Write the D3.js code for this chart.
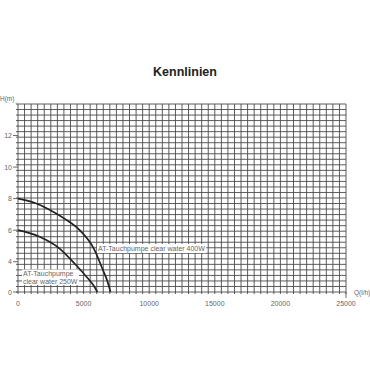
<!DOCTYPE html>
<html>
<head>
<meta charset="utf-8">
<script src="https://cdn.jsdelivr.net/npm/d3@7"></script>
<style>
  html, body { margin: 0; padding: 0; background: #fff; }
  text { font-family: "Liberation Sans", Arial, sans-serif; }
</style>
</head>
<body>
<div id="chart"></div>
<script>
// pump curves: Q in l/h, H in m
const pump400Q = [0, 1200, 2400, 3600, 4700, 5800, 6450, 6800, 7050];
const pump400H = [8, 7.75, 7.3, 6.7, 6.0, 4.8, 3.0, 1.5, 0];
const pump250Q = [0, 1600, 3150, 4400, 5300, 5750, 6050];
const pump250H = [6, 5.6, 4.85, 3.6, 1.85, 0.9, 0];

const xTicks = [0, 5000, 10000, 15000, 20000, 25000];
const xTickLabels = ['0', '5000', '10000', '15000', '20000', '25000'];
const yTicks = [0, 4, 6, 8, 10, 12];
const yTickLabels = ['0', '4', '6', '8', '10', '12'];

const width = 370, height = 370;

const svg = d3.select('#chart').append('svg')
  .attr('width', width).attr('height', height);

// the printed axis squeezes 0..4 into one label step
const x = d3.scaleLinear().domain([0, 25000]).range([18, 346]);
const y = d3.scaleLinear().domain([0, 4, 14]).range([292, 261.7, 104]);

const gridColor = '#4a4a4a';
const textColor = '#666';

svg.append('text')
  .attr('x', 185).attr('y', 76)
  .attr('text-anchor', 'middle')
  .attr('font-size', 12.5).attr('font-weight', 'bold')
  .attr('fill', '#222')
  .text('Kennlinien');

const grid = svg.append('g');

// vertical grid every 500 l/h
grid.selectAll('.vline')
  .data(d3.range(0, 25001, 500))
  .enter().append('line')
    .attr('x1', d => x(d)).attr('x2', d => x(d))
    .attr('y1', y(14)).attr('y2', y(0) + 2)
    .attr('stroke', gridColor).attr('stroke-width', 0.9);

// horizontal grid rows
const rows = 34;
const yRow = d3.scaleLinear().domain([0, rows]).range([y(0), y(14)]);
grid.selectAll('.hline')
  .data(d3.range(0, rows + 1))
  .enter().append('line')
    .attr('x1', x(0) - 2).attr('x2', x(25000))
    .attr('y1', d => yRow(d)).attr('y2', d => yRow(d))
    .attr('stroke', gridColor).attr('stroke-width', 0.9);

// y axis ticks and labels
const yAxis = svg.append('g');
yAxis.selectAll('line')
  .data(yTicks)
  .enter().append('line')
    .attr('x1', 13).attr('x2', x(0))
    .attr('y1', d => y(d)).attr('y2', d => y(d))
    .attr('stroke', gridColor).attr('stroke-width', 0.8);
yAxis.selectAll('text')
  .data(yTicks)
  .enter().append('text')
    .attr('x', 12).attr('y', d => y(d) + 2.5)
    .attr('text-anchor', 'end')
    .attr('font-size', 7).attr('fill', textColor)
    .text((d, i) => yTickLabels[i]);

svg.append('line')
  .attr('x1', 15).attr('x2', x(0))
  .attr('y1', y(14) - 1).attr('y2', y(14) - 1)
  .attr('stroke', '#aaa').attr('stroke-width', 0.6);
svg.append('text')
  .attr('x', 0).attr('y', 101)
  .attr('font-size', 6.5).attr('fill', textColor)
  .text('H(m)');

// x axis labels
const xAxis = svg.append('g');
xAxis.selectAll('text')
  .data(xTicks)
  .enter().append('text')
    .attr('x', d => x(d)).attr('y', 306)
    .attr('text-anchor', 'middle')
    .attr('font-size', 7).attr('fill', textColor)
    .text((d, i) => xTickLabels[i]);
svg.append('line')
  .attr('x1', x(25000)).attr('x2', x(25000))
  .attr('y1', y(0)).attr('y2', y(0) + 6)
  .attr('stroke', gridColor).attr('stroke-width', 0.8);
svg.append('text')
  .attr('x', 354).attr('y', 295)
  .attr('font-size', 6.5).attr('fill', textColor)
  .text('Q(l/h)');

// curve labels on white patches, drawn before the curves
const labels = [
  {x: 98, y: 250.5, lines: ['AT-Tauchpumpe clear water 400W']},
  {x: 23, y: 276, lines: ['AT-Tauchpumpe', 'clear water 250W']}
];

labels.forEach(l => {
  const g = svg.append('g');
  const t = g.append('text')
    .attr('font-size', 7).attr('fill', textColor);
  l.lines.forEach((s, i) => {
    t.append('tspan').attr('x', l.x).attr('y', l.y + i * 7.5).text(s);
  });
  const bb = t.node().getBBox();
  g.insert('rect', 'text')
    .attr('x', bb.x - 1).attr('y', bb.y - 0.5)
    .attr('width', bb.width + 2).attr('height', bb.height + 1)
    .attr('fill', '#fff');
});

// curves
const line = d3.line()
  .x(d => x(d[0]))
  .y(d => y(d[1]))
  .curve(d3.curveMonotoneX);

const curves = [
  d3.zip(pump400Q, pump400H),
  d3.zip(pump250Q, pump250H)
];

svg.selectAll('.curve')
  .data(curves)
  .enter().append('path')
    .attr('d', line)
    .attr('fill', 'none')
    .attr('stroke', '#222')
    .attr('stroke-width', 1.7);
</script>
</body>
</html>
